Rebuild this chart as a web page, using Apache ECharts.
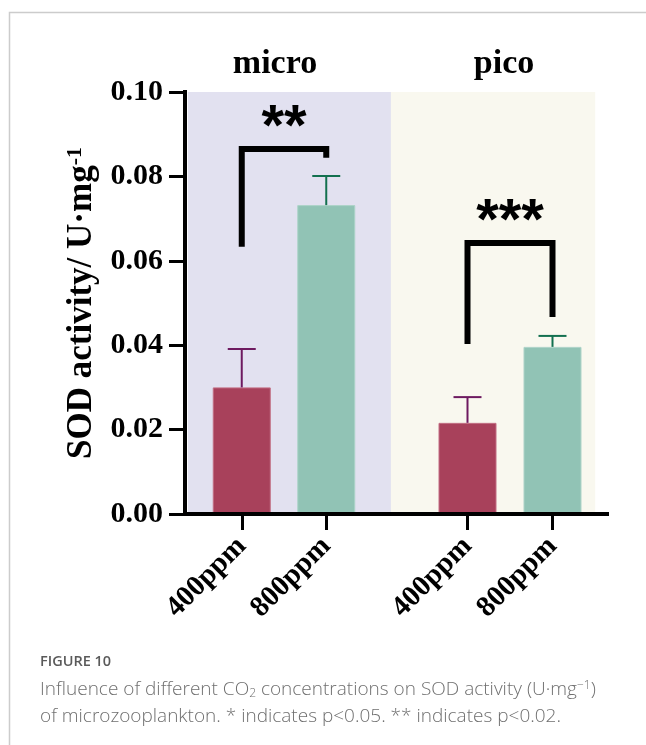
<!DOCTYPE html>
<html>
<head>
<meta charset="utf-8">
<script src="https://cdn.jsdelivr.net/npm/echarts@6/dist/echarts.min.js"></script>
<style>html,body{margin:0;padding:0;background:#fff;}#c{width:646px;height:745px;}</style>
</head>
<body>
<div id="c"></div>
<script>
// ---- data ----
const categories = ['400ppm', '800ppm'];
const groups = ['micro', 'pico'];
const microMean = [0.0300, 0.0732];
const microErr = [0.0091, 0.0069];
const picoMean = [0.0216, 0.0396];
const picoErr = [0.0061, 0.0026];
// significance brackets: [left leg bottom, bracket top, right leg bottom]
const microBracket = [0.0633, 0.0865, 0.0844];
const picoBracket = [0.0403, 0.0642, 0.0467];
const microStars = '**';
const picoStars = '***';
const microStarY = 0.0938;
const picoStarY = 0.0716;
const yTicks = [0, 0.02, 0.04, 0.06, 0.08, 0.10];

// ---- styles ----
const SERIF = '"Liberation Serif", "Times New Roman", serif';
const barColors = ['#A8415B', '#91C3B5'];
const barBorders = ['#C26F84', '#ADD3C8'];
const errColors = ['#6E1A60', '#13704F'];

const chart = echarts.init(document.getElementById('c'), null, {renderer: 'canvas'});

function errSeries(mean, err, axisIdx) {
  return {
    type: 'custom',
    xAxisIndex: axisIdx, yAxisIndex: axisIdx,
    z: 5,
    data: mean.map((m, i) => [i, m, m + err[i]]),
    renderItem: function (params, api) {
      const i = api.value(0);
      const b = api.coord([i, api.value(1)]);
      const t = api.coord([i, api.value(2)]);
      const col = errColors[i];
      return {
        type: 'group',
        children: [
          {type: 'line', shape: {x1: t[0], y1: t[1], x2: b[0], y2: b[1]}, style: {stroke: col, lineWidth: 2}},
          {type: 'line', shape: {x1: t[0] - 14, y1: t[1], x2: t[0] + 14, y2: t[1]}, style: {stroke: col, lineWidth: 2}}
        ]
      };
    }
  };
}

function bracketSeries(br, stars, starY, axisIdx) {
  return {
    type: 'custom',
    xAxisIndex: axisIdx, yAxisIndex: axisIdx,
    z: 6,
    data: [[0, br[0], br[1], br[2], starY]],
    renderItem: function (params, api) {
      const p0 = api.coord([0, api.value(1)]);
      const p1 = api.coord([0, api.value(2)]);
      const p2 = api.coord([1, api.value(2)]);
      const p3 = api.coord([1, api.value(3)]);
      const s = api.coord([0, api.value(4)]);
      return {
        type: 'group',
        children: [
          {type: 'polyline', shape: {points: [p0, p1, p2, p3]},
           style: {stroke: '#000', lineWidth: 6, lineJoin: 'miter', fill: null}},
          {type: 'text', x: (p1[0] + p2[0]) / 2, y: s[1] + 11,
           style: {text: stars, fill: '#000', font: 'bold 58px "Liberation Sans", Arial, sans-serif',
                   align: 'center', verticalAlign: 'middle'}}
        ]
      };
    }
  };
}

const lineOnly = (w) => ({show: true, lineStyle: {color: '#000', width: w, cap: 'square'}});
const CAP = '"Open Sans", sans-serif';
const capColor = '#6f6f6f';

const option = {
  animation: false,
  backgroundColor: '#fff',
  grid: [
    {left: 185, width: 422, top: 92, height: 422},
    {left: 199.5, width: 169, top: 92, height: 422},
    {left: 425, width: 170, top: 92, height: 422}
  ],
  xAxis: [
    {gridIndex: 0, type: 'value', min: 0, max: 1, position: 'bottom', z: 10,
     axisLine: lineOnly(4), axisTick: {show: false}, axisLabel: {show: false}, splitLine: {show: false}},
    {gridIndex: 0, type: 'value', min: 0, max: 1, position: 'top', z: 10,
     axisLine: lineOnly(4), axisTick: {show: false}, axisLabel: {show: false}, splitLine: {show: false}},
    {gridIndex: 1, type: 'category', data: categories, z: 10,
     axisLine: {show: false},
     axisTick: {show: true, alignWithLabel: true, length: 16, lineStyle: {color: '#000', width: 3}},
     axisLabel: {rotate: 45, margin: 28, color: '#000', fontFamily: SERIF, fontWeight: 'bold', fontSize: 29}},
    {gridIndex: 2, type: 'category', data: categories, z: 10,
     axisLine: {show: false},
     axisTick: {show: true, alignWithLabel: true, length: 16, lineStyle: {color: '#000', width: 3}},
     axisLabel: {rotate: 45, margin: 28, color: '#000', fontFamily: SERIF, fontWeight: 'bold', fontSize: 29}}
  ],
  yAxis: [
    {gridIndex: 0, type: 'value', min: 0, max: 0.1, interval: 0.02, position: 'left', z: 10,
     axisLine: lineOnly(4),
     axisTick: {show: true, length: 16, lineStyle: {color: '#000', width: 3}},
     axisLabel: {margin: 22, color: '#000', fontFamily: SERIF, fontWeight: 'bold', fontSize: 30,
                 formatter: v => { const t = yTicks.find(x => Math.abs(x - v) < 1e-9); return (t === undefined ? v : t).toFixed(2); }},
     splitLine: {show: false},
     name: '{a|SOD activity/ U·mg}{s|-1}',
     nameLocation: 'middle', nameGap: 83, nameRotate: 90,
     nameTextStyle: {color: '#000', fontFamily: SERIF, fontWeight: 'bold', fontSize: 35,
       rich: {a: {fontFamily: SERIF, fontWeight: 'bold', fontSize: 35, color: '#000'},
              s: {fontFamily: SERIF, fontWeight: 'bold', fontSize: 22, color: '#000', verticalAlign: 'top'}}}},
    {gridIndex: 0, type: 'value', min: 0, max: 0.1, position: 'right', z: 10,
     axisLine: lineOnly(4), axisTick: {show: false}, axisLabel: {show: false}, splitLine: {show: false}},
    {gridIndex: 1, type: 'value', min: 0, max: 0.1, show: false},
    {gridIndex: 2, type: 'value', min: 0, max: 0.1, show: false}
  ],
  series: [
    {type: 'line', xAxisIndex: 0, yAxisIndex: 0, data: [], z: 1, silent: true,
     markArea: {silent: true, data: [
       [{xAxis: 0.007, yAxis: 0, itemStyle: {color: '#E2E1F0'}}, {xAxis: 0.488, yAxis: 0.1}],
       [{xAxis: 0.488, yAxis: 0, itemStyle: {color: '#F9F8EF'}}, {xAxis: 0.972, yAxis: 0.1}]
     ]}},
    {type: 'bar', xAxisIndex: 2, yAxisIndex: 2, barWidth: 58, z: 3,
     data: microMean.map((v, i) => ({value: v, itemStyle: {color: barColors[i], borderColor: barBorders[i], borderWidth: 1}}))},
    {type: 'bar', xAxisIndex: 3, yAxisIndex: 3, barWidth: 58, z: 3,
     data: picoMean.map((v, i) => ({value: v, itemStyle: {color: barColors[i], borderColor: barBorders[i], borderWidth: 1}}))},
    errSeries(microMean, microErr, 2),
    errSeries(picoMean, picoErr, 3),
    bracketSeries(microBracket, microStars, microStarY, 2),
    bracketSeries(picoBracket, picoStars, picoStarY, 3)
  ],
  graphic: [
    {type: 'polyline', z: 0, shape: {points: [[9.5, 745], [9.5, 12.5], [646, 12.5]]},
     style: {stroke: '#cccccc', lineWidth: 1.5, fill: null}},
    {type: 'text', x: 275, y: 64, style: {text: groups[0], font: 'bold 34px ' + SERIF, fill: '#000', align: 'center', verticalAlign: 'middle'}},
    {type: 'text', x: 504, y: 64, style: {text: groups[1], font: 'bold 34px ' + SERIF, fill: '#000', align: 'center', verticalAlign: 'middle'}},
    {type: 'text', x: 40, y: 662, style: {text: 'FIGURE 10', font: '600 14.5px ' + CAP, fill: '#5a5a5a', verticalAlign: 'middle'}},
    {type: 'text', x: 40, y: 690, style: {
      text: '{a|Influence of different CO}{b|2}{a| concentrations on SOD activity (U·mg}{c|−1}{a|)}',
      verticalAlign: 'middle',
      rich: {
        a: {font: '300 19px ' + CAP, fill: capColor, color: capColor},
        b: {font: '300 12px ' + CAP, fill: capColor, color: capColor, verticalAlign: 'bottom', padding: [8, 0, 0, 0]},
        c: {font: '300 12px ' + CAP, fill: capColor, color: capColor, verticalAlign: 'top', padding: [0, 0, 8, 0]}
      }}},
    {type: 'text', x: 40, y: 717, style: {text: 'of microzooplankton. * indicates p<0.05. ** indicates p<0.02.',
      font: '300 19px ' + CAP, fill: capColor, verticalAlign: 'middle'}}
  ]
};
chart.setOption(option);
</script>
</body>
</html>
